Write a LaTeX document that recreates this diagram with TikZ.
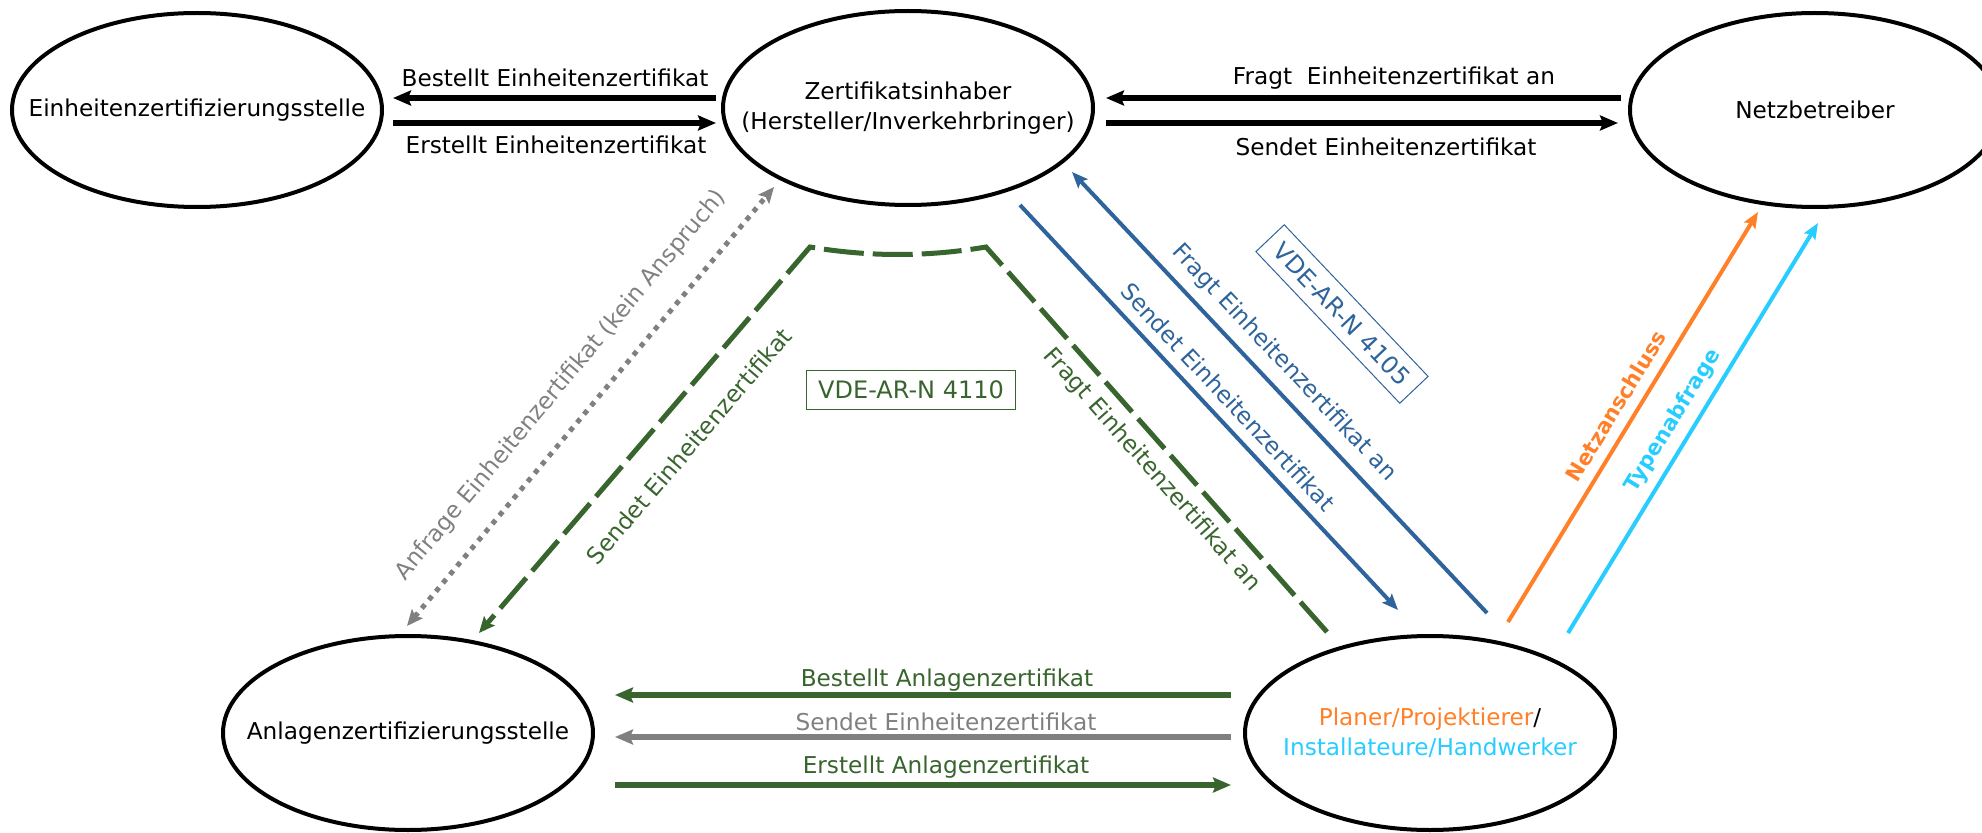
\documentclass[tikz,border=0pt]{standalone}
\usepackage{fontspec}
\setmainfont{DejaVu Sans}
\usepackage{tikz}
\usetikzlibrary{arrows.meta,shapes.geometric}
\definecolor{grn}{RGB}{56,100,46}
\definecolor{blu}{RGB}{46,100,155}
\definecolor{orng}{RGB}{255,128,40}
\definecolor{cyn}{RGB}{40,205,255}
\definecolor{gry}{RGB}{128,128,128}

\begin{document}
\begin{tikzpicture}[x=0.5pt,y=0.5pt,font=\fontsize{11.6}{15}\selectfont,
  stelle/.style={ellipse,draw,line width=2pt,minimum width=185pt,minimum height=97pt,inner sep=0pt,outer sep=0pt},
  pfeil/.style={line width=2.6pt,-{Stealth[length=9pt,width=7.5pt,inset=1.5pt]}},
  schraeg/.style={line width=2pt,-{Stealth[length=8pt,width=6.5pt,inset=1.5pt]}},
  vde/.style={draw,line width=0.5pt,minimum width=104.5pt,minimum height=19.5pt,inner sep=0pt,font=\fontsize{12}{14}\selectfont},
  fett/.style={font=\fontsize{10.6}{12}\selectfont\bfseries}]
  \useasboundingbox (0,0) rectangle (1982,832);
  % stellen
  \node[stelle] (ezs) at (197,722) {};
  \node (ezsT) at (ezs) {Einheitenzertifizierungsstelle};
  \node[stelle] (zi) at (908,724) {};
  \node[align=center] (ziT) at (zi) {Zertifikatsinhaber\\(Hersteller/Inverkehrbringer)};
  \node[stelle] (nb) at (1815,722) {};
  \node (nbT) at (nb) {Netzbetreiber};
  \node[stelle] (azs) at (408,99) {};
  \node (azsT) at (azs) {Anlagenzertifizierungsstelle};
  \node[stelle] (pl) at (1430,99) {};
  \node[align=center] (plT) at (pl) {\textcolor{orng}{Planer/Projektierer}/\\\textcolor{cyn}{Installateure/Handwerker}};
  % oben
  \draw[pfeil] ([shift={(-7,10)}]zi.west) -- ([shift={(11,12)}]ezs.east);
  \draw[pfeil] ([shift={(11,-13)}]ezs.east) -- ([shift={(-7,-15)}]zi.west);
  \draw[pfeil] ([shift={(-9,12)}]nb.west) -- ([shift={(13,10)}]zi.east);
  \draw[pfeil] ([shift={(13,-15)}]zi.east) -- ([shift={(-12,-13)}]nb.west);
  \node (tBE) at (555,754) {Bestellt Einheitenzertifikat};
  \node (tEE) at (556,687) {Erstellt Einheitenzertifikat};
  \node (tFE) at (1394,754) {Fragt\ \ Einheitenzertifikat an};
  \node (tSE) at (1386,685) {Sendet Einheitenzertifikat};
  % unten
  \draw[pfeil,grn] ([shift={(-14,38)}]pl.west) -- ([shift={(22,38)}]azs.east);
  \draw[pfeil,gry] ([shift={(-14,-4)}]pl.west) -- ([shift={(22,-4)}]azs.east);
  \draw[pfeil,grn] ([shift={(22,-52)}]azs.east) -- ([shift={(-14,-52)}]pl.west);
  \node[grn] (tBA) at (947,152) {Bestellt Anlagenzertifikat};
  \node[gry] (tSA) at (946,110) {Sendet Einheitenzertifikat};
  \node[grn] (tEA) at (946,65) {Erstellt Anlagenzertifikat};
  % schraeg links
  \draw[gry,line width=2.5pt,dash pattern=on 2.5pt off 3pt,{Stealth[length=8pt,width=7pt,inset=1.5pt]}-{Stealth[length=8pt,width=7pt,inset=1.5pt]}]
    ([shift={(-1,10)}]azs.north) -- ([shift={(-134,18)}]zi.south);
  \draw[grn,line width=2.5pt,dash pattern=on 20pt off 4.5pt,-{Stealth[length=8pt,width=7pt,inset=1.5pt]}]
    ([shift={(-103,4)}]pl.north) -- ([shift={(78,-42)}]zi.south)
    .. controls ([shift={(19,-52)}]zi.south) and ([shift={(-39,-52)}]zi.south) .. ([shift={(-98,-42)}]zi.south)
    -- ([shift={(71,3)}]azs.north);
  \node[gry,rotate=50.1] (tAnf) at (561,447) {Anfrage Einheitenzertifikat (kein Anspruch)};
  \node[grn,rotate=49.5] (tSg) at (689,386) {Sendet Einheitenzertifikat};
  \node[grn,rotate=-48.5] (tFg) at (1152,362) {Fragt Einheitenzertifikat an};
  \node[vde,grn] (v4110) at (911,442) {VDE-AR-N 4110};
  % schraeg rechts
  \draw[schraeg,blu] ([shift={(112,0)}]zi.south) -- ([shift={(-32,26)}]pl.north);
  \draw[schraeg,blu] ([shift={(57,23)}]pl.north) -- ([shift={(164,33)}]zi.south);
  \node[blu,rotate=-46.7] (tFb) at (1284,469) {Fragt Einheitenzertifikat an};
  \node[blu,rotate=-47] (tSb) at (1228,435) {Sendet Einheitenzertifikat};
  \node[vde,blu,rotate=-46.5] (v4105) at (1342,518) {VDE-AR-N 4105};
  \draw[schraeg,orng] ([shift={(78,14)}]pl.north) -- ([shift={(-57,-5)}]nb.south);
  \draw[schraeg,cyn] ([shift={(138,3)}]pl.north) -- ([shift={(3,-16)}]nb.south);
  \node[fett,orng,rotate=58.6] (tNetz) at (1616,426) {Netzanschluss};
  \node[fett,cyn,rotate=58.6] (tTyp) at (1673,411) {Typenabfrage};
\end{tikzpicture}
\end{document}
